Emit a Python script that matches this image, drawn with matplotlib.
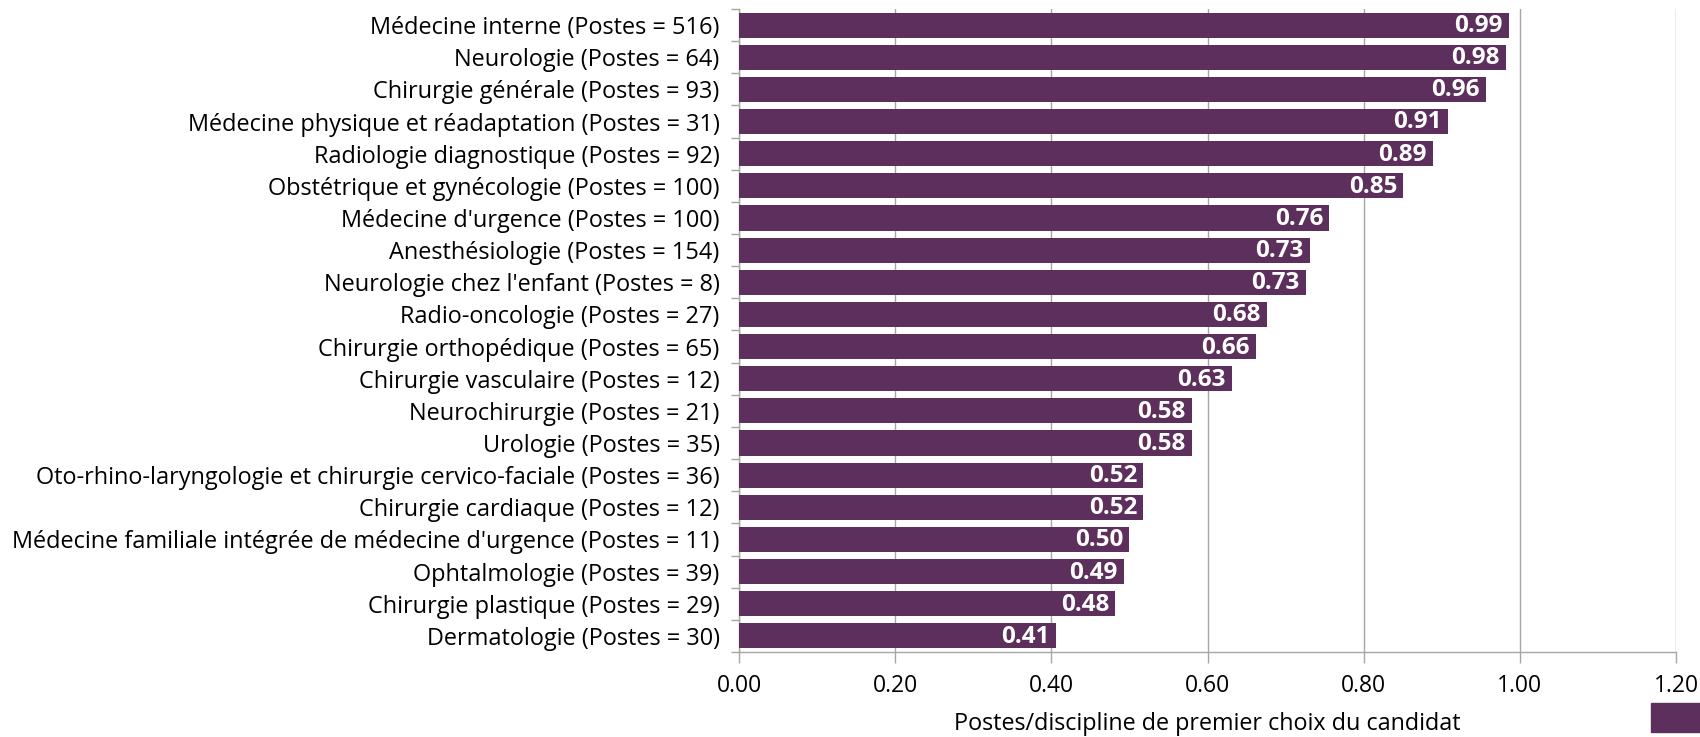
import numpy as np
import matplotlib.pyplot as plt
from matplotlib.patches import Patch

plt.rcParams['font.family'] = ['Open Sans', 'DejaVu Sans']

# data, top to bottom as shown in the chart
disciplines = [
    "Médecine interne", "Neurologie", "Chirurgie générale",
    "Médecine physique et réadaptation", "Radiologie diagnostique",
    "Obstétrique et gynécologie", "Médecine d'urgence", "Anesthésiologie",
    "Neurologie chez l'enfant", "Radio-oncologie", "Chirurgie orthopédique",
    "Chirurgie vasculaire", "Neurochirurgie", "Urologie",
    "Oto-rhino-laryngologie et chirurgie cervico-faciale", "Chirurgie cardiaque",
    "Médecine familiale intégrée de médecine d'urgence", "Ophtalmologie",
    "Chirurgie plastique", "Dermatologie",
]
postes = [516, 64, 93, 31, 92, 100, 100, 154, 8, 27, 65, 12, 21, 35, 36, 12, 11, 39, 29, 30]
ratios = [0.986, 0.982, 0.957, 0.908, 0.889, 0.851, 0.756, 0.731, 0.726, 0.676,
          0.662, 0.631, 0.580, 0.580, 0.518, 0.518, 0.500, 0.493, 0.482, 0.406]

bar_color = '#5c2f5c'
grey = '#a6a6a6'

labels = [f"{d} (Postes = {p})" for d, p in zip(disciplines, postes)]
y = np.arange(len(labels))

fig = plt.figure(figsize=(17, 7.37), dpi=100)
ax = fig.add_axes([739 / 1700, 1 - 652 / 737, (1676 - 739) / 1700, (652 - 9) / 737])

bars = ax.barh(y, ratios, height=0.78, color=bar_color, zorder=3)
for b, v in zip(bars, ratios):
    ax.text(b.get_width() - 0.008, b.get_y() + b.get_height() / 2 + 0.03, f"{v:.2f}",
            ha='right', va='center', color='white', fontsize=17.5, fontweight='bold', zorder=4)

ax.set_ylim(len(labels) - 0.5, -0.5)
ax.set_xlim(0, 1.2)
ax.set_xticks(np.arange(0, 1.21, 0.2))
ax.set_xticklabels([f"{t:.2f}" for t in np.arange(0, 1.21, 0.2)])
ax.set_yticks(y)
ax.set_yticklabels(labels)
ax.set_yticks(np.arange(-0.5, len(labels), 1), minor=True)

ax.grid(axis='x', color=grey, linewidth=1, zorder=0)
for s in ['top', 'right']:
    ax.spines[s].set_visible(False)
for s in ['left', 'bottom']:
    ax.spines[s].set_color(grey)
    ax.spines[s].set_linewidth(1)

ax.tick_params(axis='y', which='major', length=0, pad=14, labelsize=16.9)
ax.tick_params(axis='y', which='minor', length=6, color=grey, width=1)
ax.tick_params(axis='x', length=8, color=grey, width=1, pad=8, labelsize=16.5)

ax.set_xlabel("Postes/discipline de premier choix du candidat", fontsize=16.8, labelpad=10)

# legend swatch, cut off at the right edge like the source
fig.legend(handles=[Patch(color=bar_color)], labels=[' '], loc='upper left',
           bbox_to_anchor=(1651 / 1700, 1 - 703 / 737), frameon=False,
           borderpad=0, borderaxespad=0, handlelength=2.3, handleheight=1.6, fontsize=16)

fig.savefig('out.png', dpi=100)
